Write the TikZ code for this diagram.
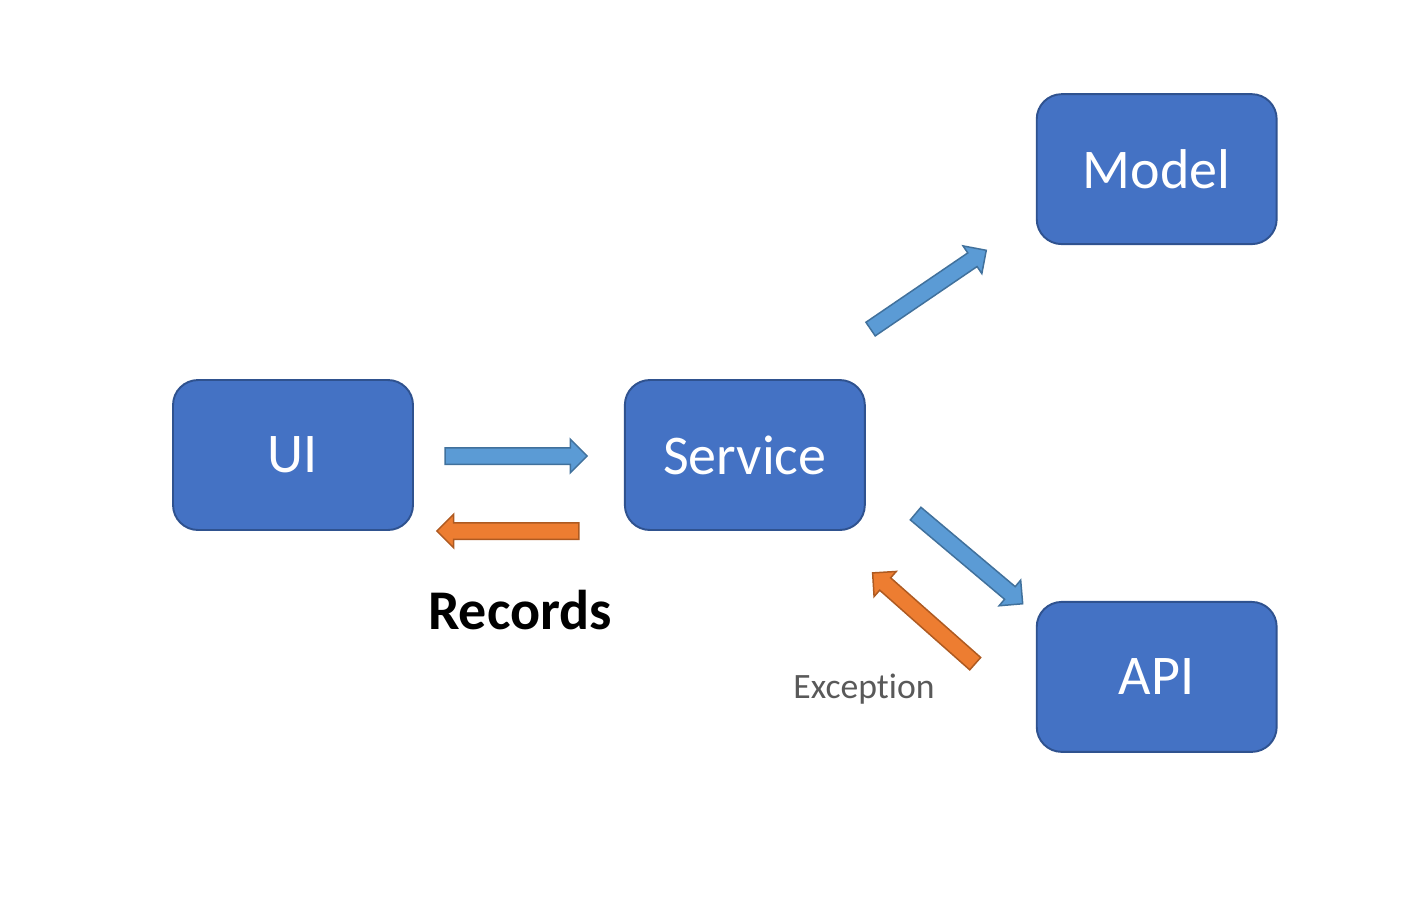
\documentclass[tikz,border=0pt]{standalone}
\usepackage{fontspec}
\setmainfont{Carlito}[Ligatures=NoCommon]
\usetikzlibrary{positioning,shapes.arrows}
\definecolor{boxblue}{HTML}{4472C4}
\definecolor{boxline}{HTML}{2F528F}
\definecolor{arrblue}{HTML}{5B9BD5}
\definecolor{arrblueline}{HTML}{41719C}
\definecolor{arrorange}{HTML}{ED7D31}
\definecolor{arrorangeline}{HTML}{AE5A21}
\definecolor{notegrey}{HTML}{595959}
\tikzset{layerbox/.style={
  shape=rectangle,
  rounded corners=0.5cm,
  draw=boxline,
  fill=boxblue,
  line width=1.1pt,
  minimum width=4.8cm,
  minimum height=3cm,
  text=white,
  font=\fontsize{31.9}{38}\selectfont,
  }
  }
\tikzset{blockarrow/.style={
  single arrow,
  single arrow head extend=0.17cm,
  single arrow head indent=0cm,
  inner xsep=0cm,
  inner ysep=0.15cm,
  minimum width=0cm,
  minimum height=#1,
  line width=0.85pt,
  },
  blockarrow/.default=2.84cm,
  callarrow/.style={blockarrow=#1, draw=arrblueline, fill=arrblue},
  callarrow/.default=2.84cm,
  backarrow/.style={blockarrow=#1, draw=arrorangeline, fill=arrorange},
  backarrow/.default=2.84cm,
  }

\begin{document}
\begin{tikzpicture}[x=0.02cm,y=-0.02cm]
  \useasboundingbox (0,0) rectangle (1415,897);

  % layers
  \node [layerbox] (ui) at (293,455) {UI};
  \node [layerbox, right=4.2cm of ui] (svc) {Service};
  \node [layerbox, above right=2.68cm and 3.4cm of svc] (model) {Model};
  \node [layerbox, below right=1.4cm and 3.4cm of svc] (api) {API};

  % calls and returns
  \node [callarrow] (ui2svc) at (512,456) {};
  \node [backarrow, rotate=180] (svc2ui) at (512,531) {};
  \node [callarrow=2.8cm, rotate=34.25] (svc2model) at (925,292) {};
  \node [callarrow=2.8cm, rotate=-40.1] (svc2api) at (966,556) {};
  \node [backarrow=2.74cm, rotate=138.5] (api2svc) at (927,621) {};

  \node [anchor=base, font=\fontsize{31.9}{38}\selectfont\bfseries] (records) at (520,629) {Records};
  \node [anchor=base, text=notegrey, font=\fontsize{20.3}{24}\selectfont] (exception) at (864,698) {Exception};
\end{tikzpicture}
\end{document}
